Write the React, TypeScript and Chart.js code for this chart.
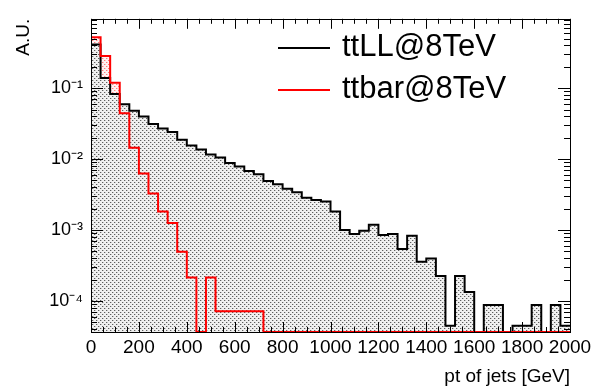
import React, { useEffect, useRef } from "react";
import { Chart, registerables } from "chart.js";

Chart.register(...registerables);

// ---- data (40 GeV bins from 0 to 2000 GeV) ----
const BIN_WIDTH = 40;
const X_MIN = 0;
const X_MAX = 2000;
const X_MAJOR_STEP = 200;
const X_MINOR_STEP = 50;
const Y_MIN = 3.65e-5;
const Y_MAX = 0.95;

const SERIES_NAMES = ["ttLL@8TeV", "ttbar@8TeV"];

const ttLL = [
  0.411, 0.139, 0.0828, 0.0592, 0.0481, 0.0398, 0.0313, 0.027, 0.0241, 0.0188,
  0.0156, 0.0136, 0.0116, 0.0105, 0.00882, 0.00785, 0.00678, 0.00611, 0.0049, 0.00442,
  0.00381, 0.0034, 0.00285, 0.00266, 0.00253, 0.00183, 0.000997, 0.000879, 0.000978, 0.00119,
  0.000852, 0.000879, 0.000538, 0.000832, 0.000358, 0.000397, 0.000225, 4.48e-5, 0.000225, 0.000134,
  0, 8.79e-5, 8.79e-5, 0, 4.48e-5, 4.48e-5, 8.79e-5, 0, 8.79e-5, 4.48e-5,
];

const ttbar = [
  0.52, 0.284, 0.119, 0.0442, 0.0144, 0.00624, 0.00326, 0.00183, 0.00126, 0.000494,
  0.000214, 0, 0.000214, 7.13e-5, 7.13e-5, 7.13e-5, 7.13e-5, 7.13e-5, 0, 0,
  0, 0, 0, 0, 0, 0, 0, 0, 0, 0,
  0, 0, 0, 0, 0, 0, 0, 0, 0, 0,
  0, 0, 0, 0, 0, 0, 0, 0, 0, 0,
];

const Y_DECADES = [1e-4, 1e-3, 1e-2, 1e-1];
const Y_LABELS = ["10\u207B\u2074", "10\u207B\u00B3", "10\u207B\u00B2", "10\u207B\u00B9"];

const FONT = "'Liberation Sans', Arimo, Arial, sans-serif";

// Histogram -> step points at bin edges; empty bins sit on the axis floor (as ROOT draws them)
function histPoints(values: number[]) {
  const pts = values.map((v, i) => ({ x: X_MIN + i * BIN_WIDTH, y: v > 0 ? v : Y_MIN }));
  const last = values[values.length - 1];
  pts.push({ x: X_MIN + values.length * BIN_WIDTH, y: last > 0 ? last : Y_MIN });
  return pts;
}

function makePattern(ctx: CanvasRenderingContext2D, bg: string, dot: string, halo: string) {
  const c = document.createElement("canvas");
  c.width = 4;
  c.height = 4;
  const g = c.getContext("2d")!;
  g.fillStyle = bg;
  g.fillRect(0, 0, 4, 4);
  g.fillStyle = halo;
  g.fillRect(1, 0, 1, 1);
  g.fillRect(3, 2, 1, 1);
  g.fillStyle = dot;
  g.fillRect(0, 0, 1, 1);
  g.fillRect(2, 2, 1, 1);
  return ctx.createPattern(c, "repeat")!;
}

const framePlugin = {
  id: "rootFrame",
  afterDatasetsDraw(chart: any) {
    const { ctx, chartArea: a, scales } = chart;
    const xs = scales.x;
    const ys = scales.y;
    ctx.save();
    ctx.strokeStyle = "#000";
    ctx.lineWidth = 1;
    ctx.beginPath();
    // x ticks (bottom and top, pointing inward)
    for (let v = X_MIN; v <= X_MAX; v += X_MINOR_STEP) {
      const px = Math.round(xs.getPixelForValue(v)) + 0.5;
      const len = v % X_MAJOR_STEP === 0 ? 10 : 5;
      ctx.moveTo(px, a.bottom);
      ctx.lineTo(px, a.bottom - len);
      ctx.moveTo(px, a.top);
      ctx.lineTo(px, a.top + len);
    }
    // y ticks (left and right, pointing inward)
    for (let d = -6; d <= 1; d++) {
      for (let m = 1; m <= 9; m++) {
        const v = m * Math.pow(10, d);
        if (v < Y_MIN || v > Y_MAX) continue;
        const py = Math.round(ys.getPixelForValue(v)) + 0.5;
        const len = m === 1 ? 12 : 6;
        ctx.moveTo(a.left, py);
        ctx.lineTo(a.left + len, py);
        ctx.moveTo(a.right, py);
        ctx.lineTo(a.right - len, py);
      }
    }
    ctx.stroke();
    ctx.strokeRect(Math.round(a.left) + 0.5, Math.round(a.top) + 0.5, Math.round(a.right - a.left), Math.round(a.bottom - a.top));
    ctx.restore();
  },
};

const legendPlugin = {
  id: "rootLegend",
  afterDraw(chart: any, _args: any, opts: any) {
    const { ctx } = chart;
    ctx.save();
    chart.data.datasets.forEach((ds: any, i: number) => {
      const yLine = opts.y0 + i * opts.dy;
      ctx.strokeStyle = ds.borderColor;
      ctx.lineWidth = 2;
      ctx.beginPath();
      ctx.moveTo(opts.x0, yLine);
      ctx.lineTo(opts.x1, yLine);
      ctx.stroke();
      ctx.fillStyle = "#000";
      ctx.font = `31px ${FONT}`;
      ctx.textBaseline = "middle";
      ctx.textAlign = "left";
      ctx.fillText(ds.label, opts.xText, yLine - 1);
    });
    ctx.restore();
  },
};

export default function App() {
  const ref = useRef<HTMLCanvasElement>(null);

  useEffect(() => {
    const canvas = ref.current!;
    const ctx = canvas.getContext("2d")!;
    const greyDots = makePattern(ctx, "#f0f0f0", "#5e5e5e", "#c4c4c4");
    const redDots = makePattern(ctx, "#fff2f2", "#ff7a7a", "#ffc4c4");

    const chart = new Chart(ctx, {
      type: "line",
      data: {
        datasets: [
          {
            label: SERIES_NAMES[0],
            data: histPoints(ttLL),
            borderColor: "#000000",
            backgroundColor: greyDots,
            borderWidth: 2,
            stepped: "before",
            pointRadius: 0,
            fill: "start",
            order: 1,
          },
          {
            label: SERIES_NAMES[1],
            data: histPoints(ttbar),
            borderColor: "#ff0000",
            backgroundColor: redDots,
            borderWidth: 2,
            stepped: "before",
            pointRadius: 0,
            fill: { target: 0, above: redDots, below: "rgba(0,0,0,0)" },
            order: 0,
          },
        ],
      } as any,
      options: {
        animation: false,
        responsive: false,
        devicePixelRatio: 1,
        layout: { padding: { left: 0, top: 8, right: 33, bottom: 0 } },
        plugins: {
          legend: { display: false },
          tooltip: { enabled: false },
          filler: { drawTime: "beforeDatasetsDraw" },
          rootLegend: { x0: 278, x1: 330, xText: 342, y0: 48, dy: 42 },
        } as any,
        scales: {
          x: {
            type: "linear",
            min: X_MIN,
            max: X_MAX,
            grid: { display: false, drawTicks: false },
            border: { display: false },
            ticks: {
              stepSize: X_MAJOR_STEP,
              autoSkip: false,
              maxRotation: 0,
              padding: 4,
              color: "#000",
              font: { family: FONT, size: 19 },
              callback: (v: any) => String(v),
            },
            title: {
              display: true,
              text: "pt of jets [GeV]",
              align: "end",
              color: "#000",
              font: { family: FONT, size: 19 },
              padding: { top: 0, bottom: 3 },
            },
            afterFit: (s: any) => {
              s.height = 59;
            },
          },
          y: {
            type: "logarithmic",
            min: Y_MIN,
            max: Y_MAX,
            grid: { display: false, drawTicks: false },
            border: { display: false },
            afterBuildTicks: (s: any) => {
              s.ticks = Y_DECADES.map((v) => ({ value: v, major: true }));
            },
            ticks: {
              autoSkip: false,
              padding: 8,
              color: "#000",
              font: { family: FONT, size: 18 },
              callback: (v: any) => {
                const i = Y_DECADES.findIndex((d) => Math.abs(d - v) / d < 1e-6);
                return i >= 0 ? Y_LABELS[i] : "";
              },
            },
            title: {
              display: true,
              text: "A.U.",
              align: "end",
              color: "#000",
              font: { family: FONT, size: 19 },
              padding: { top: 12, bottom: 0 },
            },
            afterFit: (s: any) => {
              s.width = 91;
            },
          },
        },
      } as any,
      plugins: [framePlugin, legendPlugin],
    });

    return () => chart.destroy();
  }, []);

  return (
    <div style={{ position: "fixed", left: 0, top: 0, width: 603, height: 391, background: "#fff" }}>
      <canvas ref={ref} width={603} height={391} style={{ display: "block", width: 603, height: 391 }} />
    </div>
  );
}
